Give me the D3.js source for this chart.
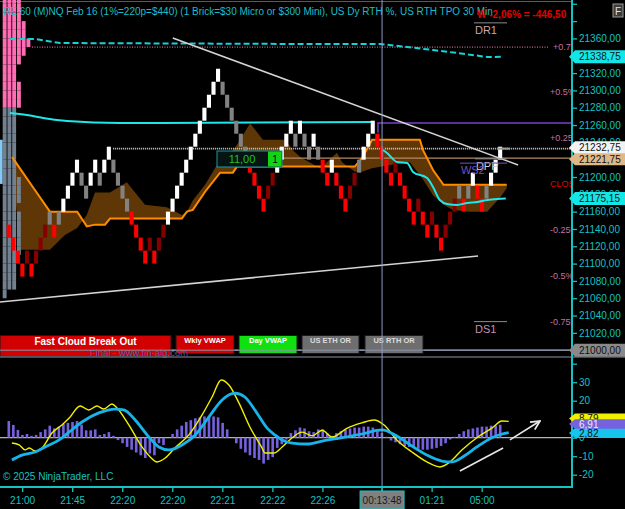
<!DOCTYPE html>
<html lang="en">
<head>
<meta charset="UTF-8">
<title>NQ Renko</title>
<script src="https://cdnjs.cloudflare.com/ajax/libs/d3/7.8.5/d3.min.js"></script>
<style>
    body { margin: 0; background: #000; overflow: hidden; }
    svg { display: block; font-family: "Liberation Sans", Arial, sans-serif; }
</style>
</head>
<body>
<svg width="625" height="509"></svg>
<script>
// ---------- data ----------
const brickSize = 15;
const brickLow = [
    21130,21115,21100,21085,21100,21085,21100,21115,21130,21145,
    21130,21145,21160,21175,21190,21205,21190,21175,21190,21205,
    21190,21205,21220,21205,21190,21175,21160,21145,21130,21115,
    21100,21115,21100,21115,21130,21145,21160,21175,21190,21205,
    21220,21235,21250,21265,21280,21295,21310,21295,21280,21265,
    21250,21235,21220,21205,21190,21175,21160,21175,21190,21205,
    21220,21235,21250,21235,21250,21235,21220,21235,21220,21205,
    21190,21205,21190,21175,21160,21175,21190,21205,21220,21235,
    21250,21235,21220,21205,21190,21205,21190,21175,21160,21145,
    21160,21145,21130,21145,21130,21115,21130,21145,21160,21175,
    21160,21175,21190,21175,21160,21175,21190,21205,21220];
// w = up, g = pullback up-trend, r = down, d = pullback down-trend
const brickType = ("rrrrdrdddg" + "rgwwwwggww" + "gwwggggrrr" + "rdrddwwwww" + "wwwwwwwggg" +
                   "gggrrrrddw" + "wwwgwggwgr" + "rwrrrddgww" + "wrrrrdrrrr" + "drrdrrdddg" +
                   "rgwrrgwww").split("");

const cloudIdx = [1.2,2.9,6.2,9.5,12.8,15.5,17.6,19.4,21.6,22.7,26.4,30.4,35.2,38.5,39.6,40.9,43.6,46.9,49.7,50.6,
                  53.5,56.3,61.2,62.9,64.5,68.9,72.6,73.7,76.5,78.1,80.3,84.2,88.6,90.8,91.5,93.7,96.0,98.1,101.8,105.6,108.4,109.9];
const cloudFast = [21223,21210,21185,21160,21160,21160,21143,21145,21145,21152,21152,21152,21152,21152,21160,21162,21183,21205,21205,21212,
                   21212,21212,21212,21212,21212,21212,21212,21212,21212,21222,21243,21243,21243,21243,21231,21208,21191,21191,21191,21191,21191,21191];
const cloudSlow = [21223,21116,21116,21116,21133,21141,21156,21182,21182,21182,21194,21168,21165,21156,21160,21173,21191,21220,21231,21237,
                   21262,21243,21243,21231,21223,21210,21228,21217,21206,21206,21210,21214,21217,21202,21197,21179,21168,21162,21160,21160,21176,21187];

const vwapIdx = [0.7,5.8,8.0,13.3,24.9,80.5];
const vwapVal = [21273.9,21270.4,21268.1,21264.7,21262.4,21263.5];
const bandIdx = [0.7,6.2,11.7,64.5,82.0,88.0,93.7,99.0,105.6,109.1];
const bandVal = [21359.3,21359.3,21354.7,21353.6,21353.6,21350.1,21346.6,21343.2,21338.6,21338.75];
const dayIdx = [82.7,83.6,85.8,88.0,89.3,92.4,93.7,95.2,96.8,99.0,101.2,103.4,105.6,107.8,109.7];
const dayVal = [21231.2,21227.7,21217.3,21216.2,21205.8,21198.8,21188.5,21173.4,21168.8,21167.7,21170.0,21171.1,21173.4,21174.6,21175.15];

const profileLow = d3.range(21060, 21401, 10);
const profileTpo = [1,3,3,3,3,4,4,4,4,4,3,4,4,4,3,3,3,3,3,3,3,3,4,4,4,3,3,4,5,6,5,5,4,4,4];
const profileSplit = 21280;
const valueArea = [21192, 21243];

const pctPrice = [21350,21298,21245,21192,21139,21086,21033];
const pctLabel = ["+0.75%","+0.5%","+0.25%","CLOSE","-0.25%","-0.5%","-0.75%"];

const pivotName = ["DR1","DPP","WS2","DS1"];
const pivotPrice = [21378,21221,21216,21033];
const pivotFrom = [102.7,102.9,99.6,102.7];

const trendIdx0 = [36.5,-1.5], trendVal0 = [21360.5,21055.7];
const trendIdx1 = [112.4,103.6], trendVal1 = [21213.9,21108.8];

const lastPrice = 21232.75, closeLine = 21221.75, weeklyLevel = 21262.4, weeklyFrom = 21251, weeklyIdx = 81.6;
const floorPrice = 21000, currentVwap = 21175.15, bandLast = 21338.75;

const oscHist = [9,6.9,4.2,1.5,2,1,1.5,3,4.5,6.5, 5,6,7.5,8,8.5,9,7,4,4,4.5, 1.5,2,3,1,-1.3,-3,-5,-6.5,-8,-9.5,
                 -11,-8.5,-9.5,-3,-4,0,2,4.5,6.5,8.5, 9.5,10.5,11,11.5,11.5,11.5,11,8,4.5,0, -3,-6,-8,-9.5,-11,-12,-14,-12,-10.5,-5.5,
                 -3.5,-1,2.5,4,5.5,5,3.5,3,4.5,4.5, 2.5,1,2.5,3.5,4.5,5,5.5,5.5,6,6, 5.5,4,2.5,0.5,-1.5,-2.5,-3.5,-4.5,-5,-5.5,
                 -6,-6.5,-6.5,-6,-5.5,-4.5,-3,-1,0.5,2, 3.5,4.5,5,5.5,6,6,6.5,6.5,7];
const fastIdx = [0.7,2.3,3.6,4.5,5.8,7.3,9.5,11.7,13.3,15.7,17.6,19.4,20.9,22.7,23.8,26.4,29.3,31.1,32.6,34.4,
                 36.5,39.6,42.5,44.7,46.7,48.4,50.6,53.0,55.7,56.3,58.3,60.1,62.3,64.5,66.7,68.9,71.1,74.4,77.6,80.3,
                 82.5,85.3,88.6,91.9,94.8,97.0,99.6,102.9,106.2,108.4,109.9];
const fastVal = [-2.9,-3.9,-6.6,-5.6,-7.2,-5.6,2.5,6.9,10.6,17.1,15.0,17.1,15.5,18.2,16.1,6.9,-5.0,-10.4,-13.1,-11.0,
                 -5.6,1.5,12.3,22.0,31.2,28.5,18.8,5.8,-5.6,-8.3,-8.3,-5.0,0,3,1,4,0.4,5.2,8,9.6,
                 6.9,-1.2,-7.7,-13.1,-15.8,-13.1,-6.6,0,5.2,9,8.8];
const slowIdx = [0.7,2.9,5.8,8.0,11.1,13.3,16.1,19.8,23.4,25.3,27.8,30.8,33.0,35.2,38.1,41.0,44.0,46.9,49.7,51.9,
                 54.1,56.8,58.5,60.1,62.3,65.6,68.9,73.3,77.6,82.0,85.3,88.6,91.9,95.2,97.4,100.1,102.9,106.2,108.4,109.9];
const slowVal = [-12.1,-9.4,-7.7,-5.0,-1.2,3.1,8.5,13.4,15.5,15.0,9.6,0.4,-5.0,-6.6,-3.9,1.5,11.2,20.4,24.1,22.0,
                 15.0,5.2,1.5,-1.2,-2.9,-3.4,-1.8,0,2,4.2,0.9,-4.5,-9.4,-12.6,-13.1,-9.9,-5.0,0,2,2.8];
const oscLast = {fast: 8.79, hist: 6.91, slow: 2.82};
const oscDrawIdx0 = [99.6,110.6], oscDrawVal0 = [-18,-1.2];
const oscDrawIdx1 = [109.1,117.2], oscDrawVal1 = [-5.6,9.0];

const timeIdx = [3.5,14.5,25.5,36.5,47.5,58.5,69.5,93.5,104.5];
const timeLabel = ["21:00","21:45","22:20","22:20","22:21","22:22","22:26","01:21","05:00"];
const cursorIdx = 82.5, cursorLabel = "00:13:48";

// ---------- layout ----------
const svg = d3.select("svg");
const plotR = 572, mainBottom = 357, oscBottom = 487;
const teal = "#14c3c3";

const ys = d3.scaleLinear().domain([21000, 21200]).range([350.2, 177]);
const xs = d3.scaleLinear().domain([0, 108]).range([6.7, 498.1]);
const yo = d3.scaleLinear().domain([-20, 30]).range([474.7, 382.2]);
const comma = v => d3.format(".2f")(v).replace(".", ",");

svg.append("rect").attr("width", 625).attr("height", 509).attr("fill", "#000");

const defs = svg.append("defs");
defs.append("clipPath").attr("id", "mainClip").append("rect")
    .attr("width", plotR).attr("height", mainBottom);
defs.append("clipPath").attr("id", "oscClip").append("rect")
    .attr("y", mainBottom).attr("width", plotR).attr("height", oscBottom - mainBottom);
defs.append("marker").attr("id", "arrow").attr("viewBox", "0 0 10 10")
    .attr("refX", 9).attr("refY", 5).attr("markerWidth", 7).attr("markerHeight", 7)
    .attr("orient", "auto")
    .append("path").attr("d", "M1,1 L9,5 L1,9").attr("fill", "none")
    .attr("stroke", "#e8e8e8").attr("stroke-width", 1.6);

const main = svg.append("g").attr("clip-path", "url(#mainClip)");

// top border
main.append("line").attr("x1", 0).attr("x2", plotR).attr("y1", 1.5).attr("y2", 1.5)
    .attr("stroke", "#5a5a5a");

// cloud fill
const cloudPts = cloudIdx.map((d, i) => ({i: d, f: cloudFast[i], s: cloudSlow[i]}));
main.append("path").datum(cloudPts)
    .attr("d", d3.area().x(d => xs(d.i)).y0(d => ys(d.f)).y1(d => ys(d.s)))
    .attr("fill", "#5f3605");

// TPO profile
const tpoBlocks = profileLow.flatMap((p, i) => d3.range(profileTpo[i]).map(j => ({p, j})));
main.selectAll(".tpo").data(tpoBlocks).join("rect")
    .attr("x", d => 2.7 + d.j * 4.75)
    .attr("y", d => ys(d.p + 10))
    .attr("width", 3.9)
    .attr("height", d => ys(d.p) - ys(d.p + 10))
    .attr("fill", d => d.p >= profileSplit ? "#ff6eb4" : "#73808f");
main.append("rect").attr("x", 0).attr("width", 2.6)
    .attr("y", ys(valueArea[1])).attr("height", ys(valueArea[0]) - ys(valueArea[1]))
    .attr("fill", "#86c8f0");

// horizontal levels
const hline = (p, x0, x1, color, w, dash) => main.append("line")
    .attr("x1", x0).attr("x2", x1).attr("y1", ys(p)).attr("y2", ys(p))
    .attr("stroke", color).attr("stroke-width", w).attr("stroke-dasharray", dash || null);

hline(pctPrice[0], 32, 548, "#c8648e", 1.3, "1,1.5");
hline(lastPrice, xs(23.4), plotR, "#d8d8d8", 1.6, "1,1");
hline(closeLine, xs(60.5), plotR, "#b48a62", 1.2);
hline(floorPrice, 0, plotR, "#9aa0b0", 1.2);

// weekly level
main.append("path")
    .attr("d", d3.line()([[xs(weeklyIdx), ys(weeklyFrom)], [xs(weeklyIdx), ys(weeklyLevel)], [plotR, ys(weeklyLevel)]]))
    .attr("fill", "none").attr("stroke", "#7a3fc8").attr("stroke-width", 1.5);

// band (dashed) and weekly vwap
main.append("path").datum(bandIdx.map((d, i) => [xs(d), ys(bandVal[i])]))
    .attr("d", d3.line()).attr("fill", "none").attr("stroke", "#14d4d4")
    .attr("stroke-width", 2).attr("stroke-dasharray", "6,3");
main.append("path").datum(vwapIdx.map((d, i) => [xs(d), ys(vwapVal[i])]))
    .attr("d", d3.line().curve(d3.curveMonotoneX)).attr("fill", "none")
    .attr("stroke", "#1ee6ea").attr("stroke-width", 2);

// cloud fast line
main.append("path").datum(cloudPts)
    .attr("d", d3.line().x(d => xs(d.i)).y(d => ys(d.f)))
    .attr("fill", "none").attr("stroke", "#ff8c00").attr("stroke-width", 2);

// bricks
const brickColor = {w: "#ffffff", g: "#828282", r: "#ff0000", d: "#860000"};
main.selectAll(".brick").data(d3.range(brickLow.length)).join("rect")
    .attr("x", i => xs(i))
    .attr("y", i => ys(brickLow[i] + brickSize))
    .attr("width", 4.1)
    .attr("height", i => ys(brickLow[i]) - ys(brickLow[i] + brickSize))
    .attr("fill", i => brickColor[brickType[i]]);
main.append("line").attr("x1", xs(108) - 1).attr("x2", xs(108) + 12)
    .attr("y1", ys(lastPrice)).attr("y2", ys(lastPrice)).attr("stroke", "#9a9a9a").attr("stroke-width", 2);

// day vwap
main.append("path").datum(dayIdx.map((d, i) => [xs(d), ys(dayVal[i])]))
    .attr("d", d3.line().curve(d3.curveMonotoneX)).attr("fill", "none")
    .attr("stroke", "#1ee6ea").attr("stroke-width", 2);

// trend lines
main.selectAll(".trend").data(trendIdx0).join("line")
    .attr("x1", (d, i) => xs(d)).attr("y1", (d, i) => ys(trendVal0[i]))
    .attr("x2", (d, i) => xs(trendIdx1[i])).attr("y2", (d, i) => ys(trendVal1[i]))
    .attr("stroke", "#d4d4d4").attr("stroke-width", 1.6);

// percent labels
main.selectAll(".pct").data(pctPrice).join("text")
    .attr("x", (d, i) => i === 0 ? 553 : 550).attr("y", d => ys(d) + 3)
    .attr("font-size", 9)
    .attr("fill", (d, i) => pctLabel[i] === "CLOSE" ? "#e00000" : "#c8709c")
    .text((d, i) => pctLabel[i]);

// pivots
const pivotColor = ["#c9a8a8", "#cfcfcf", "#6a55c8", "#c890b0"];
pivotName.forEach((n, i) => {
    const y = ys(pivotPrice[i]);
    main.append("line").attr("x1", xs(pivotFrom[i])).attr("x2", 507).attr("y1", y).attr("y2", y)
        .attr("stroke", i === 2 ? "#6a55c8" : "#8c8c8c").attr("stroke-width", 1);
    main.append("text").attr("x", xs(pivotFrom[i]) + 1).attr("y", y + 11)
        .attr("font-size", 11).attr("fill", pivotColor[i]).text(n);
});

// order box
const ob = main.append("g");
ob.append("rect").attr("x", 217).attr("y", 151).attr("width", 65).attr("height", 16)
    .attr("fill", "#061414").attr("stroke", "#1f9a9a").attr("stroke-width", 1);
ob.append("rect").attr("x", 268).attr("y", 151.5).attr("width", 13.5).attr("height", 15)
    .attr("fill", "#14d214");
ob.append("text").attr("x", 242).attr("y", 163).attr("text-anchor", "middle")
    .attr("font-size", 11).attr("fill", "#22c022").text("11,00");
ob.append("text").attr("x", 275).attr("y", 163).attr("text-anchor", "middle")
    .attr("font-size", 10).attr("fill", "#000").text("1");

// title and summary
main.append("text").attr("x", 3).attr("y", 15).attr("font-size", 10).attr("fill", "#19bfc8")
    .text("RE 60 (M)NQ Feb 16  (1%=220p=$440) (1 Brick=$30 Micro or $300 Mini), US Dy RTH %, US RTH TPO 30 Min");
main.append("text").attr("x", 477).attr("y", 18).attr("font-size", 10).attr("font-weight", "bold")
    .attr("fill", "#e00000").text("W -2,06% = -446,50");

// buttons
const buttons = [
    {t: "Fast Cloud Break Out", x: 0, w: 171, h: 21, fill: "#d20000", c: "#ffffff", fs: 10},
    {t: "Wkly VWAP", x: 176, w: 58, h: 18, fill: "#d20000", c: "#ffffff", fs: 7.5},
    {t: "Day VWAP", x: 239, w: 58, h: 18, fill: "#10e010", c: "#ffffff", fs: 7.5},
    {t: "US ETH OR", x: 302, w: 57, h: 18, fill: "#6e6e6e", c: "#dcdcdc", fs: 7.5},
    {t: "US RTH OR", x: 365, w: 58, h: 18, fill: "#6e6e6e", c: "#dcdcdc", fs: 7.5}
];
const bg = svg.append("g");
bg.selectAll("rect").data(buttons).join("rect")
    .attr("x", d => d.x).attr("y", 335.5).attr("width", d => d.w).attr("height", d => d.h)
    .attr("fill", d => d.fill).attr("stroke", "#1a1a1a");
bg.selectAll("text").data(buttons).join("text")
    .attr("x", d => d.x + d.w / 2).attr("y", d => d.fs > 9 ? 344.5 : 343)
    .attr("text-anchor", "middle").attr("font-weight", "bold")
    .attr("font-size", d => d.fs).attr("fill", d => d.c).text(d => d.t);
svg.append("text").attr("x", 90).attr("y", 356).attr("font-size", 9.5)
    .attr("fill", "#2f64b0").text("Final - www.fin-alg.com");

// separators
svg.append("line").attr("x1", 0).attr("x2", 625).attr("y1", mainBottom).attr("y2", mainBottom)
    .attr("stroke", "#8c93a8").attr("stroke-width", 1);
svg.append("line").attr("x1", 0).attr("x2", plotR).attr("y1", ys(floorPrice)).attr("y2", ys(floorPrice))
    .attr("stroke", "#8c93a8").attr("stroke-width", 1);

// ---------- oscillator ----------
const osc = svg.append("g").attr("clip-path", "url(#oscClip)");
osc.append("line").attr("x1", 0).attr("x2", plotR).attr("y1", yo(0)).attr("y2", yo(0))
    .attr("stroke", "#b4b4b4").attr("stroke-width", 1.3);
osc.selectAll(".hist").data(oscHist).join("rect")
    .attr("x", (d, i) => xs(i) + 0.8)
    .attr("y", d => Math.min(yo(d), yo(0)))
    .attr("width", 2.6)
    .attr("height", d => Math.abs(yo(d) - yo(0)))
    .attr("fill", "#7562dc");
osc.append("path").datum(fastIdx.map((d, i) => [xs(d) + 2, yo(fastVal[i])]))
    .attr("d", d3.line().curve(d3.curveMonotoneX)).attr("fill", "none")
    .attr("stroke", "#f0f000").attr("stroke-width", 1.4);
osc.append("path").datum(slowIdx.map((d, i) => [xs(d) + 2, yo(slowVal[i])]))
    .attr("d", d3.line().curve(d3.curveMonotoneX)).attr("fill", "none")
    .attr("stroke", "#17b4ea").attr("stroke-width", 2.8);
osc.selectAll(".draw").data(oscDrawIdx0).join("line")
    .attr("x1", d => xs(d)).attr("y1", (d, i) => yo(oscDrawVal0[i]))
    .attr("x2", (d, i) => xs(oscDrawIdx1[i])).attr("y2", (d, i) => yo(oscDrawVal1[i]))
    .attr("stroke", "#e8e8e8").attr("stroke-width", 1.6)
    .attr("marker-end", (d, i) => i === 1 ? "url(#arrow)" : null);
osc.append("text").attr("x", 3).attr("y", 480).attr("font-size", 10).attr("fill", teal)
    .text("© 2025 NinjaTrader, LLC");

// cursor
svg.append("line").attr("x1", xs(cursorIdx)).attr("x2", xs(cursorIdx)).attr("y1", 0).attr("y2", 491)
    .attr("stroke", "#8e9cc4").attr("stroke-width", 1);

// "F" button
svg.append("rect").attr("x", 613).attr("y", 4).attr("width", 10).attr("height", 13)
    .attr("fill", "#3c3c3c").attr("stroke", "#9a9a9a");
svg.append("text").attr("x", 618).attr("y", 14.5).attr("text-anchor", "middle")
    .attr("font-size", 10).attr("fill", "#e0e0e0").text("F");

// ---------- axes ----------
const styleAxis = g => {
    g.select(".domain").remove();
    g.selectAll("line").attr("stroke", teal).attr("stroke-width", 1.3);
    g.selectAll("text").attr("fill", teal).attr("font-size", 10)
        .attr("font-family", "Liberation Sans, Arial, sans-serif");
};
svg.append("g").attr("transform", `translate(${plotR},0)`)
    .call(d3.axisRight(ys).tickValues(d3.range(21000, 21401, 20)).tickSize(5).tickPadding(2)
        .tickFormat(v => v > 21360 ? "" : comma(v)))
    .call(styleAxis);
svg.append("g").attr("transform", `translate(${plotR},0)`)
    .call(d3.axisRight(yo).tickValues([-20, -10, 0, 10, 20, 30, 40]).tickSize(5).tickPadding(2)
        .tickFormat(v => v > 30 ? "" : v))
    .call(styleAxis);
svg.append("line").attr("x1", plotR).attr("x2", plotR).attr("y1", 0).attr("y2", oscBottom + 1)
    .attr("stroke", teal).attr("stroke-width", 2);
svg.append("line").attr("x1", 0).attr("x2", plotR + 1).attr("y1", oscBottom).attr("y2", oscBottom)
    .attr("stroke", teal).attr("stroke-width", 2);

const xa = svg.append("g");
xa.selectAll("line").data(timeIdx.concat([cursorIdx])).join("line")
    .attr("x1", d => xs(d)).attr("x2", d => xs(d)).attr("y1", oscBottom).attr("y2", oscBottom + 5)
    .attr("stroke", teal).attr("stroke-width", 1.3);
xa.selectAll("text").data(timeIdx).join("text")
    .attr("x", d => xs(d)).attr("y", 504).attr("text-anchor", "middle")
    .attr("font-size", 10).attr("fill", teal).text((d, i) => timeLabel[i]);
xa.append("rect").attr("x", xs(cursorIdx) - 22).attr("y", 491).attr("width", 44).attr("height", 18)
    .attr("fill", "#808080").attr("stroke", teal);
xa.append("text").attr("x", xs(cursorIdx)).attr("y", 504).attr("text-anchor", "middle")
    .attr("font-size", 10).attr("fill", "#1a1a1a").text(cursorLabel);

// value tags
const tag = (y, txt, fill, h, color) => {
    const hh = h / 2;
    svg.append("path")
        .attr("d", `M${plotR - 3},${y} L${plotR + 3},${y - hh} L625,${y - hh} L625,${y + hh} L${plotR + 3},${y + hh} Z`)
        .attr("fill", fill);
    svg.append("text").attr("x", 579).attr("y", y + 3.6).attr("font-size", 10)
        .attr("fill", color || "#111").text(txt);
};
tag(ys(bandLast), comma(bandLast), "#12e6e6", 13);
tag(ys(lastPrice) - 1, comma(lastPrice), "#f2f2f2", 13);
tag(ys(closeLine) + 1, comma(closeLine), "#e0b888", 12);
tag(ys(currentVwap), comma(currentVwap), "#12e6e6", 13);
tag(ys(floorPrice), comma(floorPrice), "#8a8a8a", 13);

// stacked oscillator tags: the histogram tag sits on top of the other two
tag(yo(oscLast.fast) - 3, comma(oscLast.fast), "#f0f000", 10);
tag(yo(oscLast.slow) + 0.5, comma(oscLast.slow), "#17c4ee", 10);
tag(yo(oscLast.hist) - 1, comma(oscLast.hist), "#7562dc", 9.5, "#eeeeee");
</script>
</body>
</html>
